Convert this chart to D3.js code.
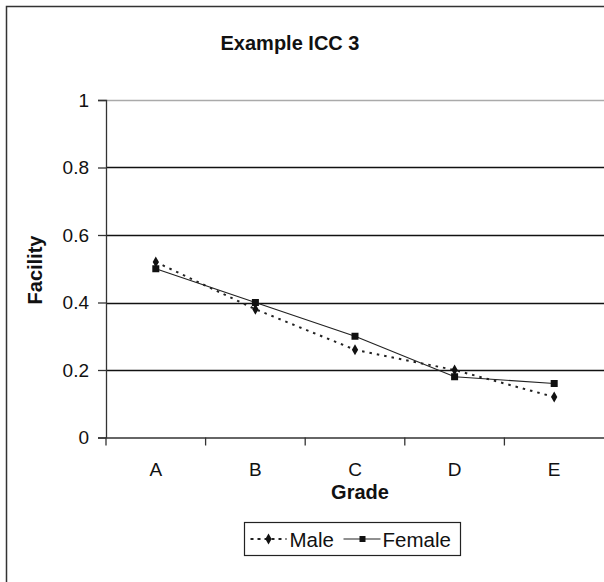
<!DOCTYPE html>
<html>
<head>
<meta charset="utf-8">
<script src="https://cdn.jsdelivr.net/npm/d3@7"></script>
<style>
  body { margin: 0; background: #fff; }
  text { font-family: "Liberation Sans", Arial, sans-serif; fill: #111; }
</style>
</head>
<body>
<div id="chart"></div>
<script>
// data
var grades = ["A", "B", "C", "D", "E"];
var male = [0.52, 0.38, 0.26, 0.20, 0.12];
var female = [0.50, 0.40, 0.30, 0.18, 0.16];
var yTicks = [0, 0.2, 0.4, 0.6, 0.8, 1];

var W = 604, H = 582;
var margin = {top: 100, right: 0, bottom: 144.5, left: 106};
var width = W - margin.left - margin.right,
    height = H - margin.top - margin.bottom;

var svg = d3.select("#chart")
  .append("svg")
    .attr("width", W)
    .attr("height", H);

// outer frame (cropped at right and bottom)
svg.append("path")
  .attr("d", "M6.5," + H + "V6.5H" + W)
  .attr("fill", "none")
  .attr("stroke", "#333")
  .attr("stroke-width", 1.5);

svg.append("text")
  .attr("x", 290)
  .attr("y", 50)
  .attr("text-anchor", "middle")
  .style("font-size", "20px")
  .style("font-weight", "bold")
  .text("Example ICC 3");

var g = svg.append("g")
  .attr("transform", "translate(" + margin.left + "," + margin.top + ")");

var x = d3.scaleBand()
  .domain(grades)
  .range([0, width]);

var y = d3.scaleLinear()
  .domain([0, 1])
  .range([height, 0]);

// gridlines
g.selectAll(".grid")
  .data(yTicks.slice(1))
  .enter()
  .append("line")
    .attr("class", "grid")
    .attr("x1", 0)
    .attr("x2", width)
    .attr("y1", function(d) { return Math.round(y(d)) + 0.5 })
    .attr("y2", function(d) { return Math.round(y(d)) + 0.5 })
    .attr("stroke", function(d) { return d == 1 ? "#aaa" : "#111" })
    .attr("stroke-width", 1.3);

// y axis
var yAxis = g.append("g")
  .call(d3.axisLeft(y)
    .tickValues(yTicks)
    .tickFormat(function(d) { return d == 0 || d == 1 ? d : d3.format(".1f")(d) })
    .tickSize(8)
    .tickPadding(9));
yAxis.select(".domain").attr("stroke", "#333").attr("stroke-width", 1.3);
yAxis.selectAll(".tick line").attr("stroke", "#333").attr("stroke-width", 1.3);
yAxis.selectAll("text")
  .style("font-size", "19px")
  .attr("fill", "#222");

// x axis, ticks at band edges
var xAxis = g.append("g")
  .attr("transform", "translate(0," + height + ")")
  .call(d3.axisBottom(x).tickSize(0).tickPadding(25));
xAxis.select(".domain").attr("stroke", "#333").attr("stroke-width", 1.3);
xAxis.selectAll("text")
  .style("font-size", "19px")
  .attr("fill", "#222");
xAxis.selectAll(".edge")
  .data(grades)
  .enter()
  .append("line")
    .attr("class", "edge")
    .attr("x1", function(d) { return x(d) })
    .attr("x2", function(d) { return x(d) })
    .attr("y1", 0)
    .attr("y2", 8)
    .attr("stroke", "#333")
    .attr("stroke-width", 1.3);

// axis titles
g.append("text")
  .attr("x", width / 2 + 5)
  .attr("y", height + 61)
  .attr("text-anchor", "middle")
  .style("font-size", "20px")
  .style("font-weight", "bold")
  .text("Grade");

g.append("text")
  .attr("transform", "translate(" + (42 - margin.left) + "," + (270 - margin.top) + ")rotate(-90)")
  .attr("text-anchor", "middle")
  .style("font-size", "20px")
  .style("font-weight", "bold")
  .text("Facility");

var cx = function(i) { return x(grades[i]) + x.bandwidth() / 2 };

var line = d3.line()
  .x(function(d, i) { return cx(i) })
  .y(function(d) { return y(d) });

g.append("path")
  .datum(female)
  .attr("fill", "none")
  .attr("stroke", "#222")
  .attr("stroke-width", 1.2)
  .attr("d", line);

g.append("path")
  .datum(male)
  .attr("fill", "none")
  .attr("stroke", "#222")
  .attr("stroke-width", 2)
  .attr("stroke-dasharray", "2.5,5")
  .attr("d", line);

var diamond = d3.symbol().type(d3.symbolDiamond).size(34);

g.selectAll(".fdot")
  .data(female)
  .enter()
  .append("rect")
    .attr("x", function(d, i) { return cx(i) - 3.5 })
    .attr("y", function(d) { return y(d) - 3.5 })
    .attr("width", 7)
    .attr("height", 7)
    .attr("fill", "#111");

g.selectAll(".mdot")
  .data(male)
  .enter()
  .append("path")
    .attr("transform", function(d, i) { return "translate(" + cx(i) + "," + y(d) + ")" })
    .attr("d", diamond)
    .attr("fill", "#111");

// legend
var lg = svg.append("g").attr("transform", "translate(244.5,522.5)");
lg.append("rect")
  .attr("width", 216)
  .attr("height", 33)
  .attr("fill", "#fff")
  .attr("stroke", "#222")
  .attr("stroke-width", 1.2);
lg.append("line")
  .attr("x1", 6).attr("x2", 42).attr("y1", 16.5).attr("y2", 16.5)
  .attr("stroke", "#222").attr("stroke-width", 2).attr("stroke-dasharray", "3,4");
lg.append("path")
  .attr("transform", "translate(24,16.5)")
  .attr("d", diamond)
  .attr("fill", "#111");
lg.append("text")
  .attr("x", 45).attr("y", 24)
  .style("font-size", "20.5px")
  .text("Male");
lg.append("line")
  .attr("x1", 99).attr("x2", 136).attr("y1", 16.5).attr("y2", 16.5)
  .attr("stroke", "#222").attr("stroke-width", 1.2);
lg.append("rect")
  .attr("x", 115).attr("y", 13.5).attr("width", 6).attr("height", 6)
  .attr("fill", "#111");
lg.append("text")
  .attr("x", 138).attr("y", 24)
  .style("font-size", "20.5px")
  .text("Female");
</script>
</body>
</html>
